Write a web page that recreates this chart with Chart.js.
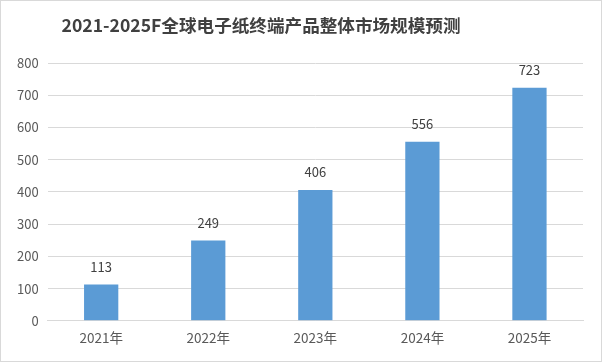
<!DOCTYPE html>
<html>
<head>
<meta charset="utf-8">
<script src="https://cdn.jsdelivr.net/npm/chart.js@4"></script>
<style>
  body { margin: 0; background: #fff; }
  #wrap { width: 600px; height: 360px; border: 1px solid #d9d9d9; position: relative; }
</style>
</head>
<body>
<div id="wrap"><canvas id="myChart"></canvas></div>
<script>
var titleText = '2021-2025F全球电子纸终端产品整体市场规模预测';
var categories = ['2021年', '2022年', '2023年', '2024年', '2025年'];
var values = [113, 249, 406, 556, 723];
var fontFamily = '"Noto Sans CJK SC", "Noto Sans", sans-serif';

// draw the title off-centre like the original, and the value labels over the bars
var labelPlugin = {
    id: 'labels',
    afterDraw: function (chart) {
        var c = chart.ctx;
        c.save();
        c.fillStyle = '#404040';
        c.font = 'bold 17.6px ' + fontFamily;
        c.textAlign = 'center';
        c.textBaseline = 'middle';
        c.fillText(titleText, 260, 24);

        c.font = '13px ' + fontFamily;
        c.fillStyle = '#404040';
        c.textBaseline = 'bottom';
        chart.getDatasetMeta(0).data.forEach(function (bar, i) {
            c.fillText(values[i], bar.x, bar.y - 11);
        });
        c.restore();
    }
};

var ctx = document.getElementById('myChart').getContext('2d');
var myChart = new Chart(ctx, {
    type: 'bar',
    data: {
        labels: categories,
        datasets: [{
            data: values,
            backgroundColor: '#5b9bd5',
            categoryPercentage: 1,
            barPercentage: 0.32
        }]
    },
    options: {
        responsive: true,
        maintainAspectRatio: false,
        animation: false,
        layout: { padding: { top: 62, right: 18, bottom: 14, left: 7 } },
        plugins: {
            legend: { display: false },
            tooltip: { enabled: false }
        },
        scales: {
            x: {
                grid: { display: false },
                border: { color: '#d9d9d9' },
                ticks: { color: '#595959', font: { family: fontFamily, size: 13.5 }, padding: 1 }
            },
            y: {
                min: 0,
                max: 800,
                ticks: { stepSize: 100, color: '#595959', font: { family: fontFamily, size: 13 }, padding: 9 },
                grid: { color: '#d9d9d9', drawTicks: false },
                border: { display: false }
            }
        }
    },
    plugins: [labelPlugin]
});
</script>
</body>
</html>
